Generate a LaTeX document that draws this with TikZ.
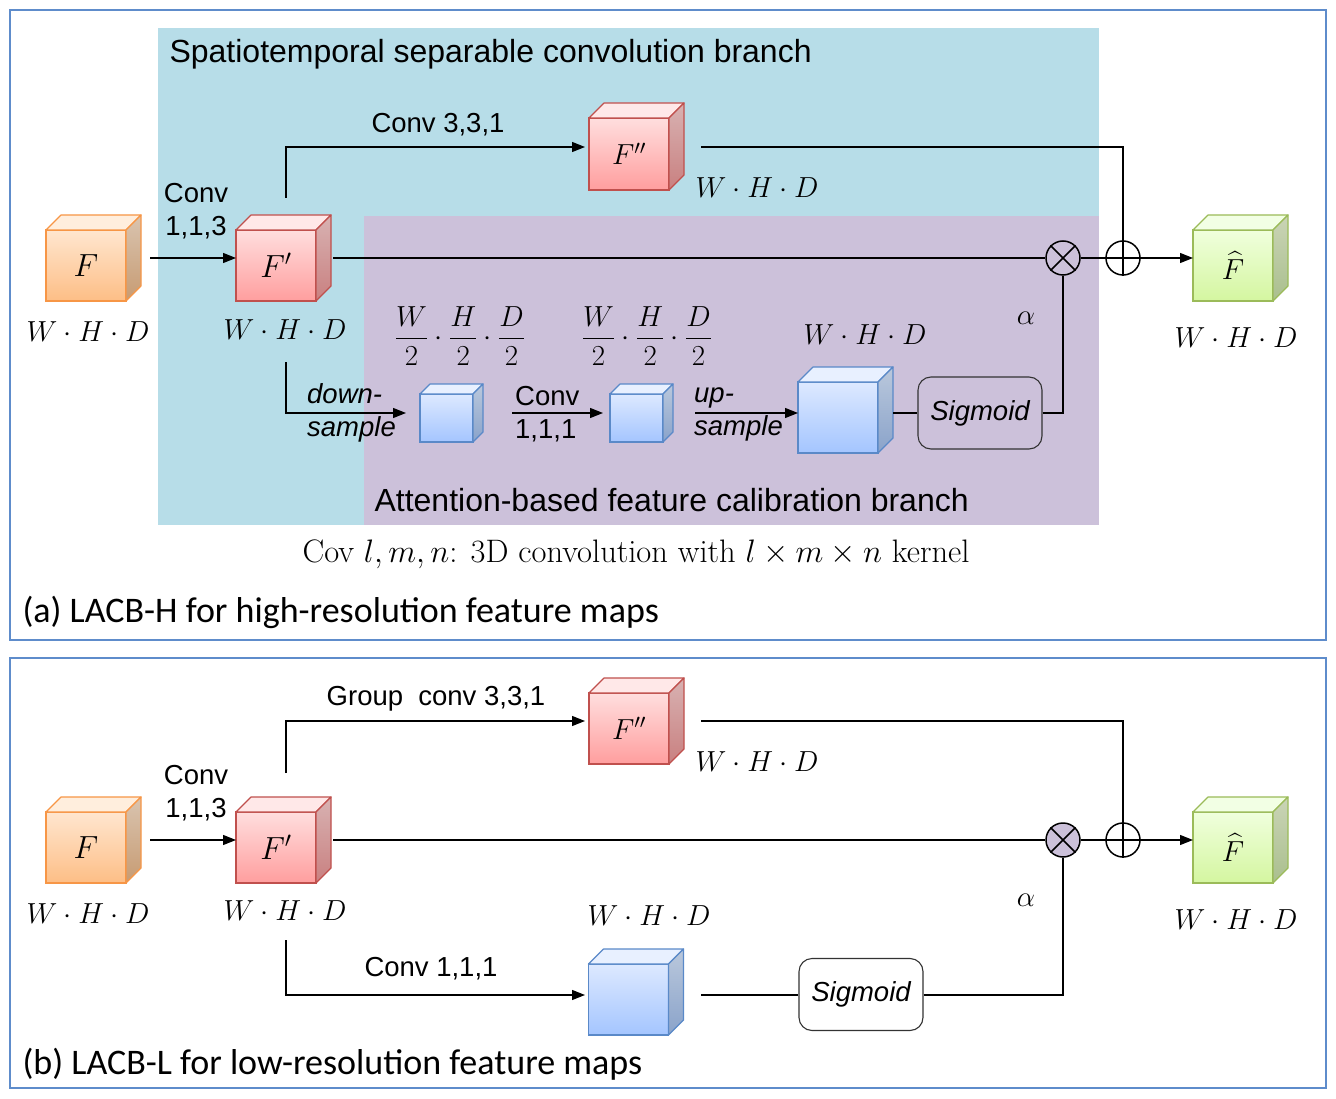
\RequirePackage{fix-cm}
\documentclass[tikz,border=0pt]{standalone}
\usepackage{amsmath}
\usepackage{fontspec}
\newfontfamily\arial{Liberation Sans}
\newfontfamily\calibri{Carlito}
\usetikzlibrary{arrows.meta,calc}
\definecolor{cyanbg}{HTML}{B7DDE8}
\definecolor{purpbg}{HTML}{CCC1DA}
\definecolor{panelb}{HTML}{5E8CCB}
\definecolor{ortop}{HTML}{FFE6CF}\definecolor{orbot}{HTML}{FDBE86}\definecolor{oredge}{HTML}{F79646}
\definecolor{orlid}{HTML}{FFEEDD}\definecolor{orstop}{HTML}{D9C4B0}\definecolor{orsbot}{HTML}{C79B72}
\definecolor{rdtop}{HTML}{FFDEDE}\definecolor{rdbot}{HTML}{FF9E9E}\definecolor{rdedge}{HTML}{C0504D}
\definecolor{rdlid}{HTML}{FFE8E8}\definecolor{rdstop}{HTML}{D8B2B2}\definecolor{rdsbot}{HTML}{C98080}
\definecolor{bltop}{HTML}{DDE9FF}\definecolor{blbot}{HTML}{A4C5FF}\definecolor{bledge}{HTML}{5A89C8}
\definecolor{bllid}{HTML}{E8F0FF}\definecolor{blstop}{HTML}{BAC8DC}\definecolor{blsbot}{HTML}{8AA3CA}
\definecolor{grtop}{HTML}{F0FFDD}\definecolor{grbot}{HTML}{D4F6A0}\definecolor{gredge}{HTML}{9BBB59}
\definecolor{grlid}{HTML}{F2FFE4}\definecolor{grstop}{HTML}{CAD4B6}\definecolor{grsbot}{HTML}{AABF8E}
\tikzset{
  cubefront/.style={rectangle, inner sep=0pt, outer sep=0pt, line width=1.2pt, font=\fontsize{32}{38}\selectfont},
  conn/.style={line width=1.3pt, draw=black},
  arr/.style={conn, -{Triangle[length=13pt,width=10pt]}},
  sans/.style={font=\arial\fontsize{27.5}{33}\selectfont},
  isans/.style={font=\arial\itshape\fontsize{27.5}{33}\selectfont},
  bigsans/.style={font=\arial\fontsize{32}{38}\selectfont},
  mathlbl/.style={font=\fontsize{29}{34}\selectfont, inner sep=1pt},
  capt/.style={font=\calibri\fontsize{36}{42}\selectfont, anchor=west},
  opcirc/.style={circle, draw=black, line width=1.5pt, minimum size=34pt, inner sep=0pt},
  sigbox/.style={rectangle, rounded corners=13pt, draw=black!80, line width=1.1pt, minimum width=124pt, minimum height=72pt, inner sep=0pt, font=\arial\itshape\fontsize{27.5}{33}\selectfont},
  panel/.style={draw=panelb, line width=1.6pt}
}
\newcommand\mycube[8]{%
  \node[cubefront, minimum width=#4pt, minimum height=#5pt, top color=#7top, bottom color=#7bot, draw=#7edge] (#1) at (#2,#3) {#8};
  \path[draw=#7edge, fill=#7lid, line width=1.2pt, line join=round] (#1.north west) -- ++(#6,-#6) -- ++(#4,0) -- (#1.north east) -- cycle;
  \path[draw=#7edge, top color=#7stop, bottom color=#7sbot, line width=1.2pt, line join=round] (#1.north east) -- ++(#6,-#6) -- ++(0,#5) -- (#1.south east) -- cycle;
}
\newcommand\halffrac[1]{\dfrac{#1\rule[-3pt]{0pt}{3pt}}{\rule{0pt}{21.5pt}2}}
\begin{document}
\begin{tikzpicture}[x=1pt,y=-1pt]
\useasboundingbox (0,0) rectangle (1336,1099);
\fill[white] (0,0) rectangle (1336,1099);
% ---------------- panel (a)
\draw[panel] (10,10) rectangle (1326,640);
\fill[cyanbg] (158,28) rectangle (1099,525);
\fill[purpbg] (364,216) rectangle (1099,525);
\node[bigsans, anchor=west] (ttlA) at (166,54) {Spatiotemporal separable convolution branch};
\node[bigsans, anchor=west] (ttlB) at (371,500) {Attention-based feature calibration branch};
\node[font=\fontsize{32.5}{38}\selectfont] (covnote) at (636,554) {Cov $l,m,n$: 3D convolution with $l\times m\times n$ kernel};
\node[capt] (captA) at (19,612) {(a) LACB-H for high-resolution feature maps};

\mycube{FA}{86}{265.5}{80}{71}{15}{or}{$F$}
\mycube{FpA}{276}{265.5}{80}{71}{15}{rd}{$F'$}
\mycube{FppA}{629}{154}{80}{72}{15}{rd}{\fontsize{29}{34}\selectfont$F''$}
\mycube{FhA}{1233}{265.5}{80}{71}{15}{gr}{\fontsize{29}{34}\selectfont$\widehat{F}$}
\mycube{s1A}{446.5}{418}{53}{48}{10}{bl}{}
\mycube{s2A}{636.5}{418}{53}{48}{10}{bl}{}
\mycube{bigA}{838}{417.5}{80}{71}{15}{bl}{}

\node[mathlbl] (dFA) at (88,332) {$W\cdot H\cdot D$};
\node[mathlbl] (dFpA) at (285,330) {$W\cdot H\cdot D$};
\node[mathlbl] (dFppA) at (757,188) {$W\cdot H\cdot D$};
\node[mathlbl] (dbigA) at (865,335) {$W\cdot H\cdot D$};
\node[mathlbl] (dFhA) at (1236,338) {$W\cdot H\cdot D$};
\node[mathlbl] (alA) at (1026,318) {$\alpha$};
\node[mathlbl] (fr1A) at (460,336) {$\halffrac{W}\cdot\halffrac{H}\cdot\halffrac{D}$};
\node[mathlbl] (fr2A) at (647,336) {$\halffrac{W}\cdot\halffrac{H}\cdot\halffrac{D}$};

\node[sans, align=center] (c113A) at (196,211) {Conv\\1,1,3};
\node[sans] (c331A) at (438,125) {Conv 3,3,1};
\node[isans, align=left, anchor=west, inner sep=0pt] (dsA) at (307,413) {down-\\sample};
\node[sans, align=left, anchor=west, inner sep=0pt] (c111A) at (515,414) {Conv\\1,1,1};
\node[isans, align=left, anchor=west, inner sep=0pt] (usA) at (694,414) {up-\\sample};

\node[sigbox] (sigA) at (980,413) {Sigmoid};
\node[opcirc, fill=purpbg] (otA) at (1063,258) {};
\node[opcirc, fill=white] (opA) at (1123,258) {};
\draw[line width=1.5pt] (otA.45) -- (otA.225) (otA.135) -- (otA.315);
\draw[line width=1.5pt] (opA.north) -- (opA.south) (opA.east) -- (opA.west);

\coordinate (aS) at (150,258);
\coordinate (aM) at (333,258);
\coordinate (aT) at (286,198);
\coordinate (aT2) at (585,147);
\coordinate (aFo) at (701,147);
\coordinate (aD) at (286,362);
\coordinate (aD2) at (406,413);
\coordinate (aC1) at (512,413);
\coordinate (aC2) at (603,413);
\coordinate (aU1) at (695,413);
\coordinate (aB) at (893,413);

\draw[arr] (aS) -- (FpA.west |- aS);
\draw[conn] (aM) -- (otA.west);
\draw[conn] (otA.east) -- (opA.west);
\draw[arr] (opA.east) -- (FhA.west |- opA.east);
\draw[arr] (aT) |- (aT2);
\draw[conn] (aFo) -| (opA.north);
\draw[arr] (aD) |- (aD2);
\draw[arr] (aC1) -- (aC2);
\draw[arr] (aU1) -- (bigA.west |- aU1);
\draw[conn] (aB) -- (sigA.west);
\draw[conn] (sigA.east) -| (otA.south);

% ---------------- panel (b)
\draw[panel] (10,658) rectangle (1326,1088);
\node[capt] (captB) at (19,1064) {(b) LACB-L for low-resolution feature maps};

\mycube{FB}{86}{847.5}{80}{71}{15}{or}{$F$}
\mycube{FpB}{276}{847.5}{80}{71}{15}{rd}{$F'$}
\mycube{FppB}{629}{728.5}{80}{71}{15}{rd}{\fontsize{29}{34}\selectfont$F''$}
\mycube{FhB}{1233}{847.5}{80}{71}{15}{gr}{\fontsize{29}{34}\selectfont$\widehat{F}$}
\mycube{blB}{628.5}{999.5}{80}{71}{15}{bl}{}

\node[mathlbl] (dFB) at (88,914) {$W\cdot H\cdot D$};
\node[mathlbl] (dFpB) at (285,911) {$W\cdot H\cdot D$};
\node[mathlbl] (dFppB) at (757,762) {$W\cdot H\cdot D$};
\node[mathlbl] (dblB) at (649,916) {$W\cdot H\cdot D$};
\node[mathlbl] (dFhB) at (1236,920) {$W\cdot H\cdot D$};
\node[mathlbl] (alB) at (1026,900) {$\alpha$};

\node[sans, align=center] (c113B) at (196,793) {Conv\\1,1,3};
\node[sans] (gcB) at (436,699) {Group\ \ conv 3,3,1};
\node[sans] (c111B) at (431,969) {Conv 1,1,1};

\node[sigbox] (sigB) at (861,994.5) {Sigmoid};
\node[opcirc, fill=purpbg] (otB) at (1063,840) {};
\node[opcirc, fill=white] (opB) at (1123,840) {};
\draw[line width=1.5pt] (otB.45) -- (otB.225) (otB.135) -- (otB.315);
\draw[line width=1.5pt] (opB.north) -- (opB.south) (opB.east) -- (opB.west);

\coordinate (bS) at (150,840);
\coordinate (bM) at (333,840);
\coordinate (bT) at (286,773);
\coordinate (bT2) at (585,721);
\coordinate (bFo) at (701,721);
\coordinate (bD) at (286,940);
\coordinate (bD2) at (585,995);
\coordinate (bB) at (701,995);

\draw[arr] (bS) -- (FpB.west |- bS);
\draw[conn] (bM) -- (otB.west);
\draw[conn] (otB.east) -- (opB.west);
\draw[arr] (opB.east) -- (FhB.west |- opB.east);
\draw[arr] (bT) |- (bT2);
\draw[conn] (bFo) -| (opB.north);
\draw[arr] (bD) |- (bD2);
\draw[conn] (bB) -- (sigB.west |- bB);
\draw[conn] (sigB.east |- bB) -| (otB.south);
\end{tikzpicture}
\end{document}
